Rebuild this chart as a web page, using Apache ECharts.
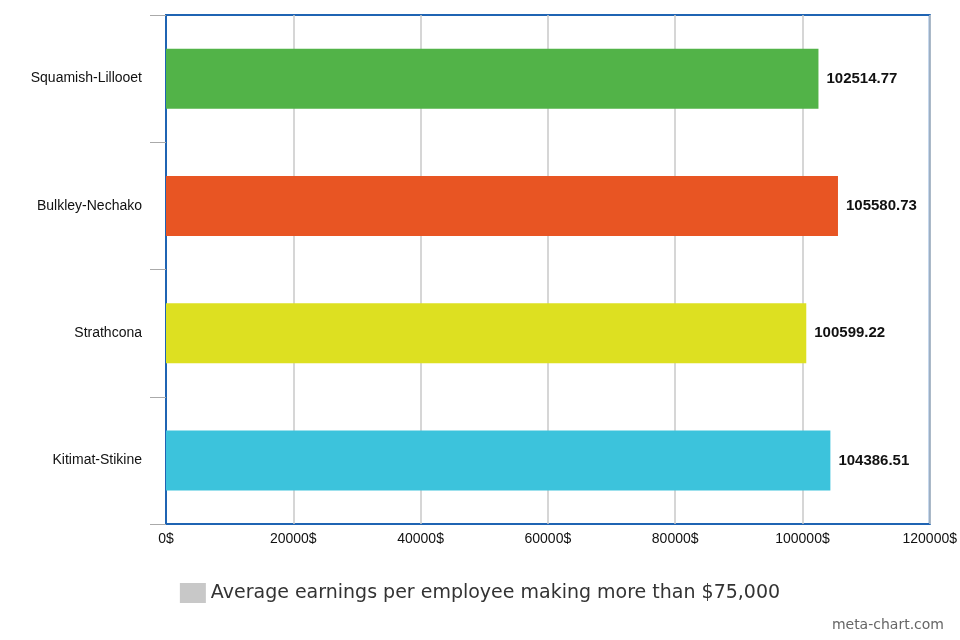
<!DOCTYPE html>
<html>
<head>
<meta charset="UTF-8">
<script src="https://cdn.jsdelivr.net/npm/echarts/dist/echarts.min.js"></script>
<style>
  body { margin: 0; background: #fff; }
  #chart { width: 960px; height: 640px; }
</style>
</head>
<body>
<div id="chart"></div>
<script>
    // data
    const regions = ['Squamish-Lillooet', 'Bulkley-Nechako', 'Strathcona', 'Kitimat-Stikine'];
    const earnings = [102514.77, 105580.73, 100599.22, 104386.51];
    const barColors = ['#52b348', '#e85523', '#dde021', '#3cc3dc'];
    const seriesName = 'Average earnings per employee making more than $75,000';

    const chart = echarts.init(document.getElementById('chart'));
    chart.setOption({
        animation: false,
        graphic: [{
            type: 'text', right: 16, bottom: 8,
            style: { text: 'meta-chart.com', fill: '#666', font: '14px "DejaVu Sans"' }
        }],
        legend: {
            bottom: 32, left: 'center', icon: 'rect',
            itemWidth: 26, itemHeight: 20,
            textStyle: { fontSize: 19, color: '#333', fontFamily: 'DejaVu Sans' },
            data: [{ name: seriesName, itemStyle: { color: '#c8c8c8' } }]
        },
        grid: {
            left: 166, right: 16, top: 15, bottom: 116, containLabel: false,
            show: true, borderColor: '#1f64b3', borderWidth: 2
        },
        xAxis: {
            type: 'value', min: 0, max: 120000, interval: 20000,
            axisLabel: { formatter: v => v + '$', color: '#111', fontSize: 14, fontFamily: 'Arial' },
            splitLine: { lineStyle: { color: '#c8c8c8', width: 1.5 } },
            axisLine: { show: false }
        },
        yAxis: {
            type: 'category', data: regions, inverse: true,
            axisLine: { show: true, lineStyle: { color: '#1f64b3', width: 2 } },
            axisTick: { show: true, inside: false, length: 16, lineStyle: { color: '#aaa' } },
            axisLabel: { color: '#111', fontSize: 14, fontFamily: 'Arial', margin: 24 }
        },
        series: [{
            name: seriesName, type: 'bar', barWidth: 60,
            data: earnings.map((v, i) => ({ value: v, itemStyle: { color: barColors[i] } })),
            label: {
                show: true, position: 'right', distance: 8,
                color: '#111', fontWeight: 'bold', fontSize: 15, fontFamily: 'Arial'
            }
        }]
    });
</script>
</body>
</html>
